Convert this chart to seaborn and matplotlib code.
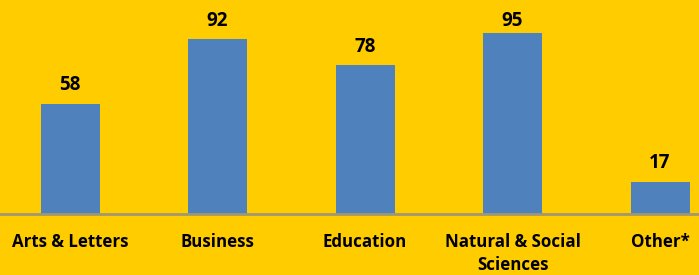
import numpy as np
import seaborn as sns
import matplotlib.pyplot as plt
import pandas as pd

categories = ["Arts & Letters", "Business", "Education", "Natural & Social\nSciences", "Other*"]
counts = [58, 92, 78, 95, 17]

df = pd.DataFrame({"category": categories, "count": counts})

bg = "#FFCC00"
sns.set_theme(style="white")
plt.rcParams['font.family'] = ['Open Sans', 'DejaVu Sans']

fig = plt.figure(figsize=(6.99, 2.75), dpi=100, facecolor=bg)
ax = fig.add_axes([0, 61 / 275, 1, (214 - 23.5) / 275])
ax.set_facecolor(bg)

sns.barplot(data=df, x="category", y="count", color="#4F81BD", width=0.4,
            saturation=1, linewidth=0, ax=ax)

# value labels; the tallest ones get held down near the top like in the original
for bar, val in zip(ax.patches, counts):
    x = bar.get_x() + bar.get_width() / 2
    ax.annotate(str(val), xy=(x, min(bar.get_height(), 92)), xytext=(0, 9.5),
                textcoords="offset points", ha="center", va="baseline",
                fontsize=13.5, fontweight="bold", color="black")

ax.set_xlim(-70 / 147.5, (699 - 70) / 147.5)
ax.set_ylim(0, 100)
ax.set(xlabel="", ylabel="", yticks=[])
ax.tick_params(axis="x", length=0, pad=14, labelsize=12.2)
for lab in ax.get_xticklabels():
    lab.set_fontweight("bold")
    lab.set_color("black")
    lab.set_linespacing(1.35)

sns.despine(ax=ax, left=True, top=True, right=True)
ax.spines["bottom"].set_color("#A09870")
ax.spines["bottom"].set_linewidth(2)

fig.savefig("out.png", dpi=100, facecolor=bg)
